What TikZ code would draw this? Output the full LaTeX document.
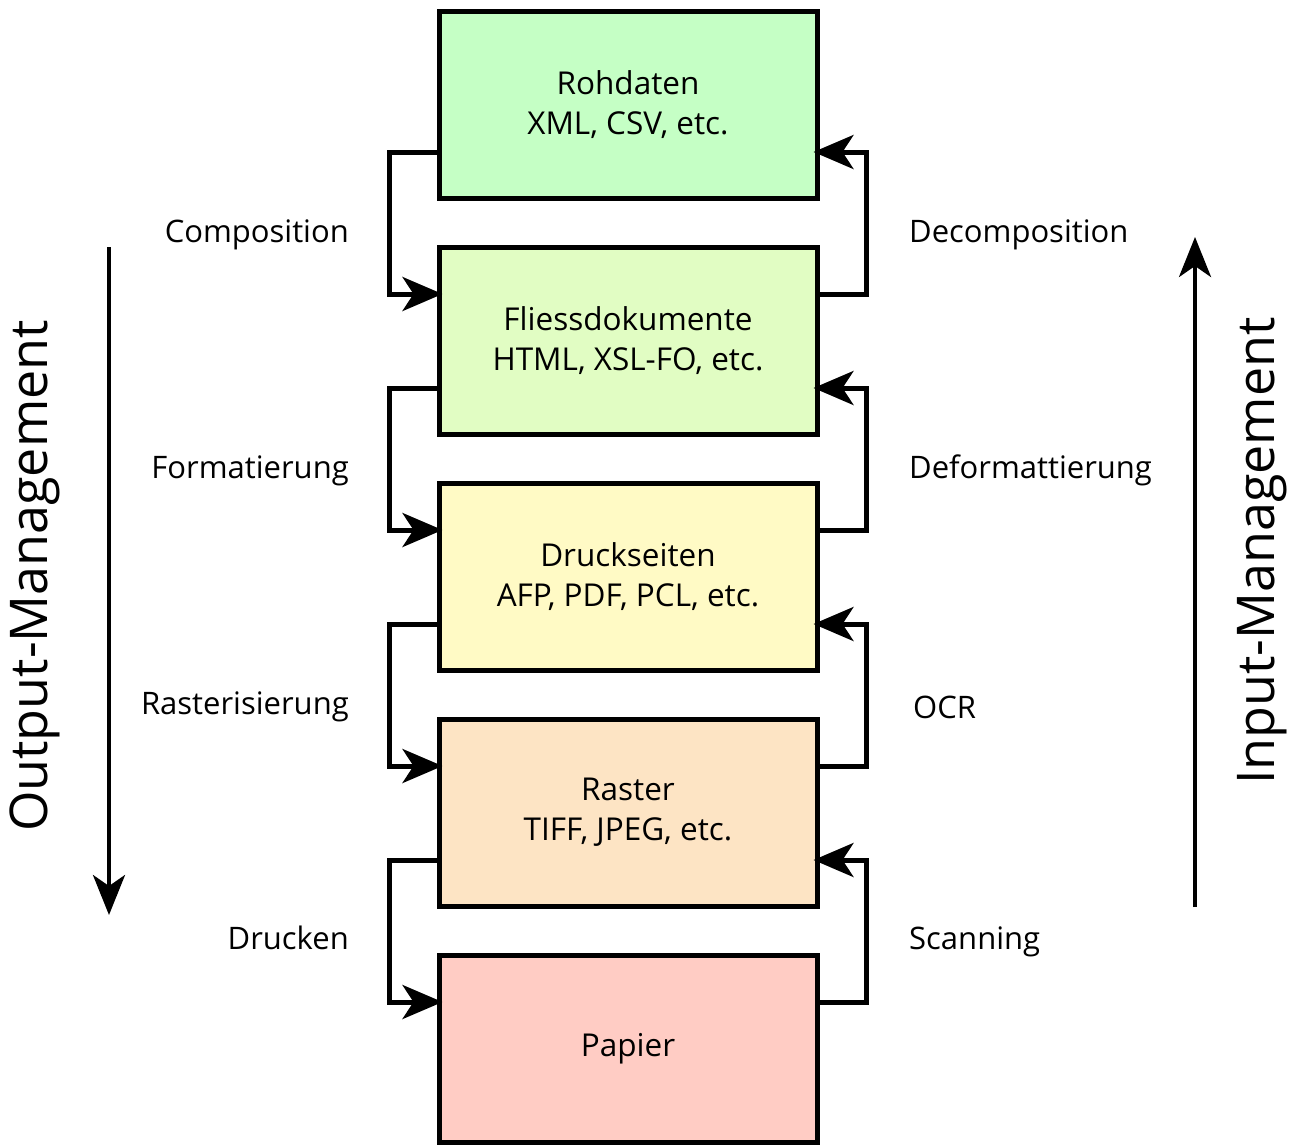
\documentclass[tikz,border=0pt]{standalone}
\usepackage{fontspec}
\setmainfont{Open Sans}
\usetikzlibrary{arrows.meta,calc}
\definecolor{cA}{RGB}{197,255,197}
\definecolor{cB}{RGB}{225,253,195}
\definecolor{cC}{RGB}{255,250,197}
\definecolor{cD}{RGB}{253,228,196}
\definecolor{cE}{RGB}{255,204,196}
\begin{document}
\begin{tikzpicture}[x=1pt,y=-1pt,
  box/.style={draw=black,line width=5pt,minimum width=378pt,minimum height=187pt,inner sep=0pt,align=center,font=\fontsize{31.5}{40}\selectfont},
  conn/.style={line width=5pt,line join=miter,-{Stealth[length=40pt,width=34pt,inset=11pt]}},
  big/.style={line width=4pt,-{Stealth[length=40pt,width=32pt,inset=11pt]}},
  lab/.style={font=\fontsize{31}{36}\selectfont,inner sep=0pt},
  side/.style={font=\fontsize{52}{60}\selectfont,inner sep=0pt,rotate=90}]
\useasboundingbox (0,0) rectangle (1293,1144);
\node[box,fill=cA] (b1) at (628,104.5) {Rohdaten\\XML, CSV, etc.};
\node[box,fill=cB] (b2) at (628,340.5) {Fliessdokumente\\HTML, XSL-FO, etc.};
\node[box,fill=cC] (b3) at (628,576.5) {Druckseiten\\AFP, PDF, PCL, etc.};
\node[box,fill=cD] (b4) at (628,812.5) {Raster\\TIFF, JPEG, etc.};
\node[box,fill=cE] (b5) at (628,1048.5) {Papier};
\foreach \a/\b in {b1/b2,b2/b3,b3/b4,b4/b5}{
  \draw[conn] ($(\a.west)+(0,47.5)$) -- ++(-47,0) |- ($(\b.west)+(6,-46.5)$);
  \draw[conn] ($(\b.east)+(0,-46.5)$) -- ++(47,0) |- ($(\a.east)+(-6,47.5)$);
}
\node[lab,anchor=base east] (l1) at (349,242) {Composition};
\node[lab,anchor=base east] (l2) at (349,478) {Formatierung};
\node[lab,anchor=base east] (l3) at (349,714) {Rasterisierung};
\node[lab,anchor=base east] (l4) at (349,949) {Drucken};
\node[lab,anchor=base west] (r1) at (909,242) {Decomposition};
\node[lab,anchor=base west] (r2) at (909,478) {Deformattierung};
\node[lab,anchor=base west] (r3) at (913,718) {OCR};
\node[lab,anchor=base west] (r4) at (909,949) {Scanning};
\coordinate (oa) at (109,247);
\coordinate (ob) at (109,915);
\coordinate (ia) at (1195,907);
\coordinate (ib) at (1195,237);
\draw[big] (oa) -- (ob);
\draw[big] (ia) -- (ib);
\node[side] (om) at (35,576) {Output-Management};
\node[side] (im) at (1262,551) {Input-Management};
\end{tikzpicture}
\end{document}
